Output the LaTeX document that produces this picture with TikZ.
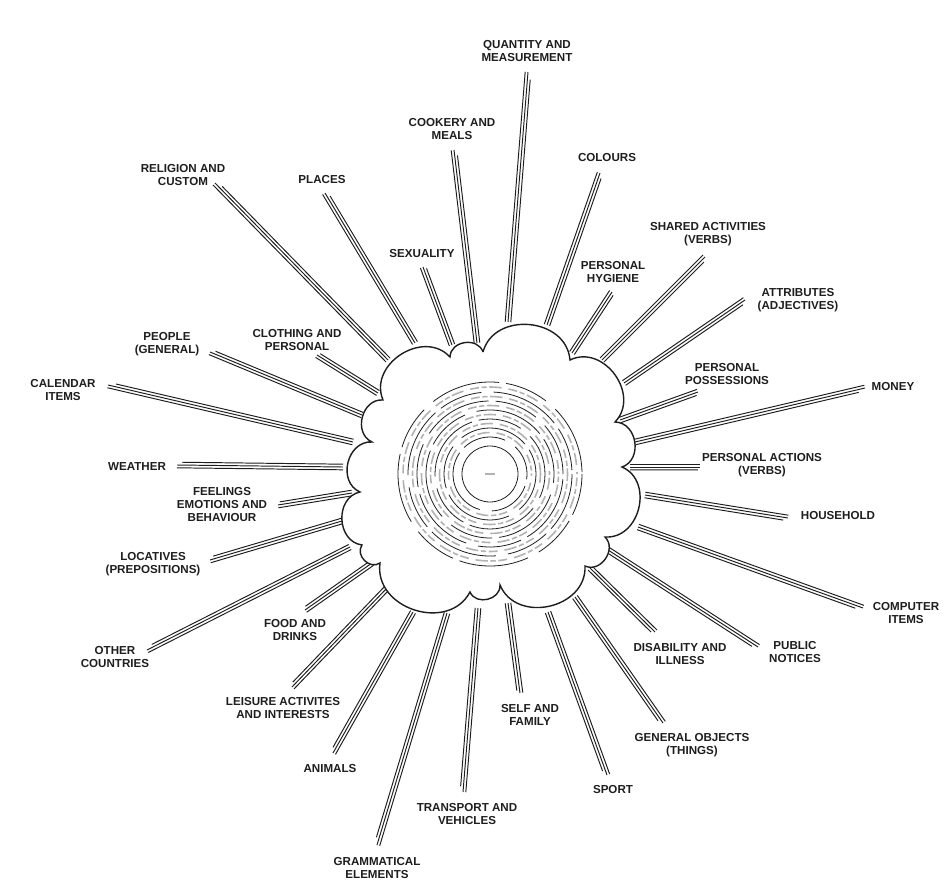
\documentclass[tikz,border=0pt]{standalone}
\usepackage{fontspec}
\newfontfamily\catfont{Liberation Sans}
\usetikzlibrary{calc,positioning}
\definecolor{inkgray}{RGB}{30,30,30}

\begin{document}
\begin{tikzpicture}[x=0.02cm, y=-0.02cm,
	catlabel/.style={align=center, inner sep=0pt, text=inkgray, font=\catfont\bfseries\fontsize{6.6}{7.4}\selectfont},
	rayline/.style={line width=0.55pt, color=inkgray},
	cloudline/.style={line width=0.8pt, color=inkgray, fill=white},
	puff/.style={bend left=80, looseness=1.25},
	ringline/.style={line width=0.45pt, color=inkgray},
	textband/.style={line width=0.9pt, color=gray!60, dash pattern=on 5pt off 1.5pt on 3pt off 1.5pt on 7pt off 4pt}
	]
	\useasboundingbox (0,0) rectangle (944,882);

	% rays and their labels
	\foreach \nm/\ax/\ay/\bx/\by/\lx/\ly/\txt in {
		quantity/508/322/528/72/527/51/{QUANTITY AND\\MEASUREMENT},
		cookery/477/343/454/150/452/129/{COOKERY AND\\MEALS},
		colours/547/325/600/173/607/158/{COLOURS},
		religion/388/360/215/183/183/175/{RELIGION AND\\CUSTOM},
		places/415/343/325/193/322/180/{PLACES},
		sexuality/452/345/423/267/422/254/{SEXUALITY},
		shared/602/360/705/257/708/234/{SHARED ACTIVITIES\\(VERBS)},
		hygiene/572/353/612/292/613/272/{PERSONAL\\HYGIENE},
		attributes/624/383/745/300/798/300/{ATTRIBUTES\\(ADJECTIVES)},
		people/362/415/210/352/167/344/{PEOPLE\\(GENERAL)},
		clothing/378/393/317/355/297/340/{CLOTHING AND\\PERSONAL},
		calendar/353/442/108/385/63/390/{CALENDAR\\ITEMS},
		possessions/620/420/698/392/727/374/{PERSONAL\\POSSESSIONS},
		money/635/442/865/388/893/387/{MONEY},
		actions/630/467/700/467/762/465/{PERSONAL ACTIONS\\(VERBS)},
		household/645/495/788/518/838/516/{HOUSEHOLD},
		computer/638/527/863/608/906/613/{COMPUTER\\ITEMS},
		weather/343/467/177/465/137/467/{WEATHER},
		feelings/352/493/278/505/222/505/{FEELINGS\\EMOTIONS AND\\BEHAVIOUR},
		locatives/342/521/210/560/153/564/{LOCATIVES\\(PREPOSITIONS)},
		countries/350/547/147/650/115/657/{OTHER\\COUNTRIES},
		food/372/563/305/610/295/630/{FOOD AND\\DRINKS},
		leisure/387/588/292/687/283/708/{LEISURE ACTIVITES\\AND INTERESTS},
		animals/413/612/333/753/330/769/{ANIMALS},
		grammatical/447/613/377/845/377/868/{GRAMMATICAL\\ELEMENTS},
		transport/478/608/463/792/467/814/{TRANSPORT AND\\VEHICLES},
		self/508/603/520/693/530/715/{SELF AND\\FAMILY},
		sport/548/612/607/775/613/790/{SPORT},
		objects/575/597/663/723/692/745/{GENERAL OBJECTS\\(THINGS)},
		disability/590/568/655/632/680/654/{DISABILITY AND\\ILLNESS},
		notices/605/548/758/647/795/652/{PUBLIC\\NOTICES}}
	{
		\node[catlabel] (\nm) at (\lx,\ly) {\txt};
		\coordinate (\nm-in) at (\ax,\ay);
		\coordinate (\nm-out) at (\bx,\by);
		\coordinate (\nm-end) at ($(\nm-in)!0.97!(\nm-out)$);
		\draw[rayline] ($(\nm-in)!1.6pt!90:(\nm-out)$) -- ($(\nm-out)!1.6pt!-90:(\nm-in)$);
		\draw[rayline] (\nm-in) -- (\nm-out);
		\draw[rayline] ($(\nm-in)!1.6pt!-90:(\nm-out)$) -- ($(\nm-end)!1.6pt!90:(\nm-in)$);
	}

	% the cloud
	\coordinate (c1) at (483,352);
	\coordinate (c2) at (570,360);
	\coordinate (c3) at (615,422);
	\coordinate (c4) at (622,467);
	\coordinate (c5) at (605,537);
	\coordinate (c6) at (585,566);
	\coordinate (c7) at (500,585);
	\coordinate (c8) at (470,592);
	\coordinate (c9) at (380,563);
	\coordinate (c10) at (362,545);
	\coordinate (c11) at (360,492);
	\coordinate (c12) at (372,442);
	\coordinate (c13) at (383,400);
	\coordinate (c14) at (450,357);
	\draw[cloudline] (c1) to[puff] (c2) to[puff] (c3) to[puff] (c4) to[puff] (c5) to[puff] (c6) to[puff] (c7) to[puff] (c8) to[puff] (c9) to[puff] (c10) to[puff] (c11) to[puff] (c12) to[puff] (c13) to[puff] (c14) to[puff] (c1);

	% rings
	\coordinate (ctr) at (490,474);
	\draw[ringline] (ctr) circle[radius=28];
	\foreach \r in {37,46,55,64,73,82,92}
		\draw[ringline, dash pattern=on 40pt off 4pt on 25pt off 7pt, dash phase=\r pt] (ctr) circle[radius=\r];
	\foreach \r in {41.5,50.5,59.5,68.5,77.5,87}
		\draw[textband, dash phase=2*\r pt] (ctr) circle[radius=\r];
	\draw[line width=0.9pt, gray!60] ($(ctr)+(-5,0)$) -- ($(ctr)+(5,0)$);
\end{tikzpicture}
\end{document}
